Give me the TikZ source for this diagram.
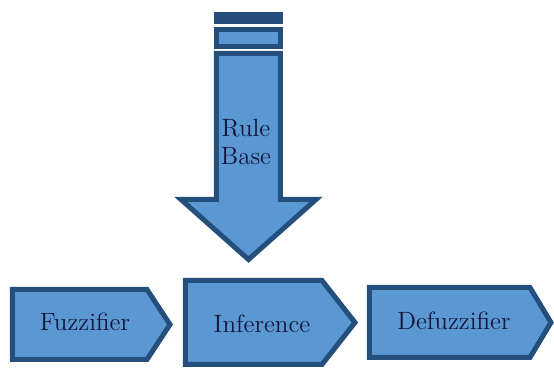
\documentclass[tikz,border=0pt]{standalone}
\definecolor{boxfill}{RGB}{91,152,211}
\definecolor{boxline}{RGB}{36,78,124}
\definecolor{boxtext}{RGB}{18,22,58}

\begin{document}
\begin{tikzpicture} [x=0.5pt, y=-0.5pt, block/.style={draw=boxline, fill=boxfill, line width=2.5pt, line join=miter}, label/.style={text=boxtext, font=\fontsize{12.5}{14}\selectfont, align=center, inner sep=0pt}]
  \useasboundingbox (0,0) rectangle (554,369);
  % Rule base arrow (stripes on top)
  \draw [block, fill=boxline] (216.5,14.5) rectangle (280.5,21.5);
  \draw [block] (216.5,29.5) rectangle (280.5,46.5);
  \draw [block] (216.5,53.5) -- (280.5,53.5) -- (280.5,199.5) -- (316,199.5)
    -- (248.5,259.5) -- (181,199.5) -- (216.5,199.5) -- cycle;
  \node [label] (rule) at (246,142) {Rule\\Base};
  % Process blocks
  \draw [block] (12.5,289.5) -- (147,289.5) -- (170,324.5) -- (147,359.5) -- (12.5,359.5) -- cycle;
  \node [label] (fuzz) at (85,322) {Fuzzifier};
  \draw [block] (185.5,280.5) -- (322,280.5) -- (355,322.5) -- (322,364.5) -- (185.5,364.5) -- cycle;
  \node [label] (infer) at (262,324) {Inference};
  \draw [block] (369.5,287.5) -- (530,287.5) -- (551,322.5) -- (530,357.5) -- (369.5,357.5) -- cycle;
  \node [label] (defuzz) at (454,321) {Defuzzifier};
\end{tikzpicture}
\end{document}
